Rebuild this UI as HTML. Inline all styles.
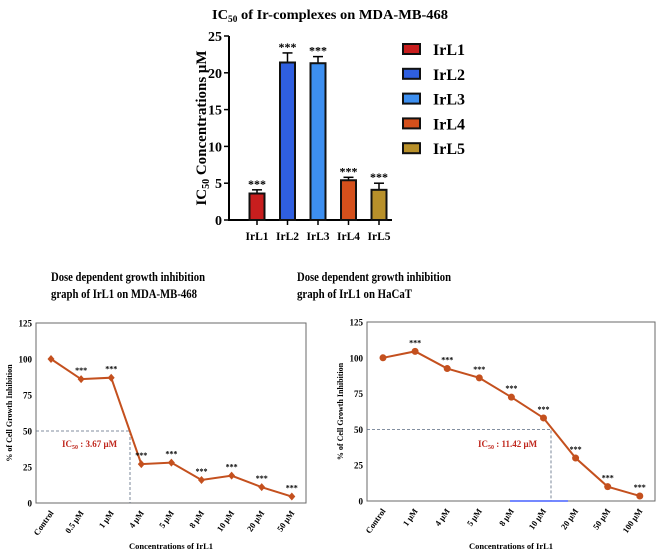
<!DOCTYPE html>
<html><head><meta charset="utf-8"><style>
body{margin:0;background:#fff;width:661px;height:558px;overflow:hidden}
svg{display:block}
text{font-family:"Liberation Serif",serif}
</style></head><body>
<svg id="s" width="661" height="558" xmlns="http://www.w3.org/2000/svg"></svg>
<script>
const barCats=["IrL1","IrL2","IrL3","IrL4","IrL5"];
const barVals=[3.6,21.4,21.3,5.4,4.1];
const barErr=[0.5,1.3,0.9,0.4,0.9];
const barColors=["#c81e1e","#2f5fe0","#3d8ff0","#d4501c","#b8902a"];
const barTicks=[0,5,10,15,20,25];
const mdaCats=["Control","0.5 μM","1 μM","4 μM","5 μM","8 μM","10 μM","20 μM","50 μM"];
const mdaVals=[100,86,87,27,28,16,19,11,4.5];
const hacCats=["Control","1 μM","4 μM","5 μM","8 μM","10 μM","20 μM","50 μM","100 μM"];
const hacVals=[100,104.5,92.5,86,72.5,58,30,10,3.5];
const lineTicks=[0,25,50,75,100,125];

const S=document.getElementById('s');
const NS="http://www.w3.org/2000/svg";
function mk(t,a,txt){const e=document.createElementNS(NS,t);for(const k in a)e.setAttribute(k,a[k]);if(txt!==undefined)e.textContent=txt;S.appendChild(e);return e;}

// ---- bar chart
const by=v=>220-v*7.36;
const bx=i=>257+i*30.5;
let e=mk('text',{x:330,y:19,'text-anchor':'middle','font-size':14,'font-weight':'bold',textLength:236,lengthAdjust:'spacingAndGlyphs'});

e.innerHTML='IC<tspan font-size="9" dy="3">50</tspan><tspan dy="-3"> of Ir-complexes on MDA-MB-468</tspan>';
e=mk('text',{x:0,y:0,transform:'translate(206,128) rotate(-90)','text-anchor':'middle','font-size':15,'font-weight':'bold'});

e.innerHTML='IC<tspan font-size="10" dy="3">50</tspan><tspan dy="-3"> Concentrations μM</tspan>';
e=mk('line',{x1:229,y1:by(25),x2:229,y2:221,stroke:'#000','stroke-width':2});

e=mk('line',{x1:228,y1:220,x2:392,y2:220,stroke:'#000','stroke-width':2});

barTicks.forEach(t=>{
 mk('line',{x1:224,y1:by(t),x2:229,y2:by(t),stroke:'#000','stroke-width':1.5});
 e=mk('text',{x:222,y:by(t)+5,'text-anchor':'end','font-size':14,'font-family':'Liberation Sans','font-weight':'bold'},t);
 
});
barCats.forEach((c,i)=>{
 const x=bx(i),top=by(barVals[i]+barErr[i]);
 e=mk('line',{x1:x,y1:top,x2:x,y2:by(barVals[i]),stroke:'#000','stroke-width':1.5});
 
 mk('line',{x1:x-5,y1:top,x2:x+5,y2:top,stroke:'#000','stroke-width':1.5});
 e=mk('rect',{x:x-7.5,y:by(barVals[i]),width:15,height:220-by(barVals[i]),fill:barColors[i],stroke:'#111','stroke-width':2});
 
 e=mk('text',{x:x,y:top-2,'text-anchor':'middle','font-size':12,'font-family':'Liberation Sans','font-weight':'bold'},'***');
 
 mk('line',{x1:x,y1:220,x2:x,y2:225,stroke:'#000','stroke-width':1.5});
 e=mk('text',{x:x,y:240,'text-anchor':'middle','font-size':11.5,'font-weight':'bold'},c);
 
 const ly=49+i*24.8;
 e=mk('rect',{x:403,y:ly-5,width:17,height:10,fill:barColors[i],stroke:'#111','stroke-width':2});
 
 e=mk('text',{x:433,y:ly+6,'font-size':16,'font-weight':'bold'},c);
 
});

// ---- line charts
function lineChart(o){
 const y=v=>o.b-v*(o.b-o.t)/125;
 const x=i=>o.x0+i*o.dx;
 const g=o.id;
 e=mk('text',{x:o.tx,y:281,'font-size':13,'font-weight':'bold',textLength:154,lengthAdjust:'spacingAndGlyphs'},'Dose dependent growth inhibition');
 
 e=mk('text',{x:o.tx,y:298,'font-size':13,'font-weight':'bold',textLength:o.t2w,lengthAdjust:'spacingAndGlyphs'},o.t2);
 
 e=mk('rect',{x:o.l,y:o.t,width:o.r-o.l,height:o.b-o.t,fill:'none',stroke:'#6a6a6a','stroke-width':1});
 
 lineTicks.forEach(t=>{
  e=mk('text',{x:o.l-4,y:y(t)+3.5,'text-anchor':'end','font-size':9,'font-family':'Liberation Sans','font-weight':'bold'},t);
  
 });
 e=mk('text',{x:0,y:0,transform:`translate(${o.l-24},${(o.t+o.b)/2}) rotate(-90)`,'text-anchor':'middle','font-size':8,'font-weight':'bold'},'% of Cell Growth Inhibition');
 
 e=mk('text',{x:(o.l+o.r)/2,y:549,'text-anchor':'middle','font-size':8.5,'font-weight':'bold'},'Concentrations of IrL1');
 
 e=mk('polyline',{points:`${o.l},${y(50)} ${o.icx},${y(50)} ${o.icx},${o.b}`,fill:'none',stroke:'#5a6a80','stroke-width':0.8,'stroke-dasharray':'3,2'});
 
 if(o.blue){mk('line',{x1:o.blue[0],y1:o.b,x2:o.blue[1],y2:o.b,stroke:'#2040ff','stroke-width':1.2});}
 e=mk('text',{x:o.lx,y:447,'font-size':9,'font-weight':'bold',fill:'#c0281e'});
 
 e.innerHTML='IC<tspan font-size="6" dy="2">50</tspan><tspan dy="-2"> : '+o.ic+'</tspan>';
 const pts=o.vals.map((v,i)=>x(i)+','+y(v)).join(' ');
 e=mk('polyline',{points:pts,fill:'none',stroke:'#c4501e','stroke-width':2});
 
 o.vals.forEach((v,i)=>{
  const px=x(i),py=y(v);
  if(o.circle) e=mk('circle',{cx:px,cy:py,r:3.5,fill:'#c4501e'});
  else e=mk('polygon',{points:`${px},${py-4} ${px+3.5},${py} ${px},${py+4} ${px-3.5},${py}`,fill:'#c4501e'});
  
  if(i>0){e=mk('text',{x:px,y:py-6,'text-anchor':'middle','font-size':8,'font-family':'Liberation Sans','font-weight':'bold'},'***');
   }
  e=mk('text',{x:0,y:0,transform:`translate(${px+3},${o.b+10}) rotate(-55)`,'text-anchor':'end','font-size':8.5,'font-weight':'bold'},o.cats[i]);
  
 });
}
lineChart({id:'mda',l:36,r:306,t:323,b:503,x0:51,dx:30.1,vals:mdaVals,cats:mdaCats,tx:51,t2:'graph of IrL1 on MDA-MB-468',t2w:146,icx:130,lx:62,ic:'3.67 μM',circle:false});
lineChart({id:'hacat',l:367,r:655,t:322,b:501,x0:383,dx:32.1,vals:hacVals,cats:hacCats,tx:297,t2:'graph of IrL1 on HaCaT',t2w:115,icx:551,lx:478,ic:'11.42 μM',circle:true,blue:[510,568]});
</script>
</body></html>
